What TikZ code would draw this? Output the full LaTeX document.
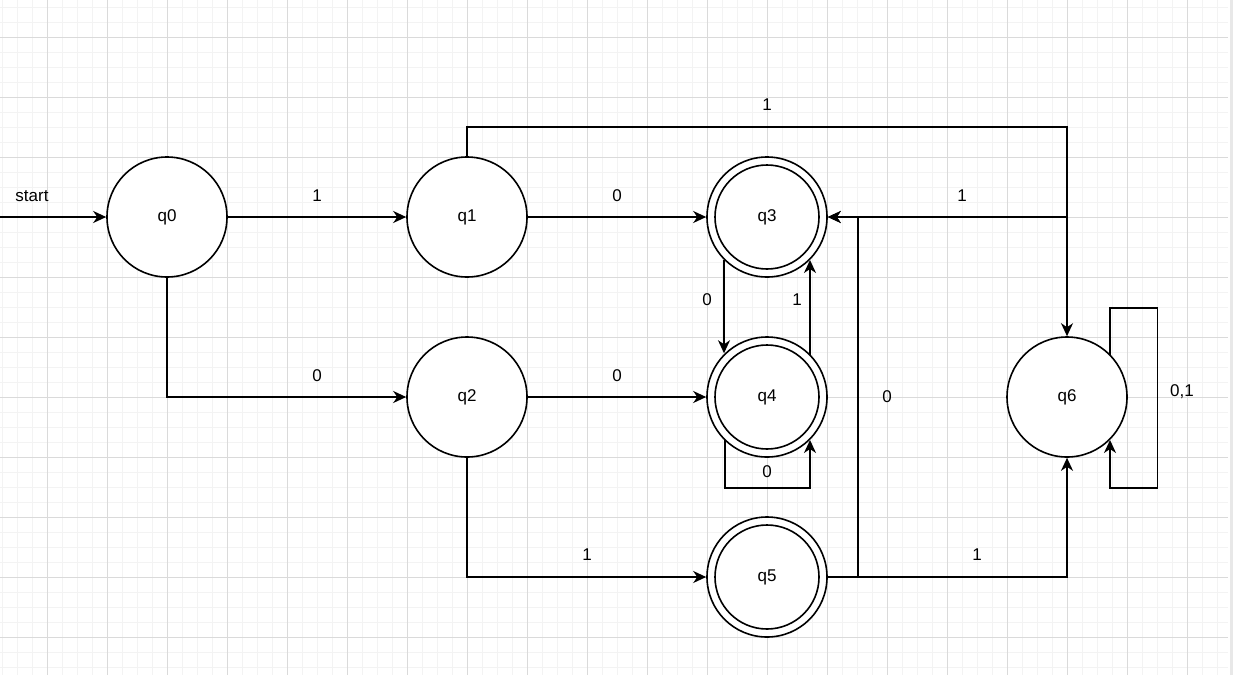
\documentclass[tikz,border=0pt]{standalone}
\usepackage{fontspec}
\setmainfont{Liberation Sans}
\usetikzlibrary{arrows.meta}
\definecolor{gminor}{HTML}{F3F3F3}
\definecolor{gmajor}{HTML}{DADADA}
\begin{document}
\begin{tikzpicture}[x=1pt,y=-1pt,
  state/.style={circle,draw,line width=1.6pt,fill=white,minimum size=120pt,inner sep=0pt,font=\fontsize{17}{20}\selectfont},
  edgeline/.style={line width=1.6pt,-{Stealth[length=13pt,width=12pt,inset=4pt]}},
  innerring/.style={line width=1.6pt},
  lbl/.style={font=\fontsize{17}{20}\selectfont,inner sep=0pt}]
\useasboundingbox (0,0) rectangle (1233,675);
\fill[white] (0,0) rectangle (1233,675);
% grid
\foreach \i in {0,...,81} \draw[gminor,line width=1.2pt] (2.3+15*\i,0) -- (2.3+15*\i,675);
\foreach \i in {0,...,44} \draw[gminor,line width=1.2pt] (0,7.3+15*\i) -- (1228,7.3+15*\i);
\foreach \i in {0,...,19} \draw[gmajor,line width=1pt] (47.3+60*\i,0) -- (47.3+60*\i,675);
\foreach \i in {0,...,10} \draw[gmajor,line width=1pt] (0,37.3+60*\i) -- (1228,37.3+60*\i);
\fill[white] (1228,0) rectangle (1233,675);
\fill[gray!18] (1230,0) rectangle (1233,675);
% states
\node[state] (q0) at (167,217) {q0};
\node[state] (q1) at (467,217) {q1};
\node[state] (q2) at (467,397) {q2};
\node[state] (q3) at (767,217) {q3};
\node[state] (q4) at (767,397) {q4};
\node[state] (q5) at (767,577) {q5};
\node[state] (q6) at (1067,397) {q6};
\draw[innerring] (q3.center) circle[radius=52pt];
\draw[innerring] (q4.center) circle[radius=52pt];
\draw[innerring] (q5.center) circle[radius=52pt];
% connectors
\coordinate (s0) at (0,217);
\draw[edgeline] (s0) -- (q0);
\draw[edgeline] (q0) -- (q1);
\draw[edgeline] (q1) -- (q3);
\draw[edgeline] (q0.south) |- (q2.west);
\draw[edgeline] (q2) -- (q4);
\draw[edgeline] (q2.south) |- (q5.west);
\coordinate (c1) at (467,127);
\draw[edgeline] (q1.north) -- (c1) -| (q6.north);
\draw[edgeline] (q3.225.6) -- (q3.225.6 |- q4.134.4);
\draw[edgeline] (q3.315.8 |- q4.44.2) -- (q3.315.8);
\coordinate (l4a) at (725,488);
\coordinate (l4b) at (810,488);
\draw[edgeline] (l4a |- q4.225.6) -- (l4a) -- (l4b) -- (l4b |- q4.315.8);
\coordinate (c5) at (858,577);
\coordinate (c3) at (858,217);
\draw[edgeline] (q5.east) -- (c5) -- (c3) -- (q3.east);
\draw[edgeline] (q5.east) -| (q6.south);
\coordinate (c6) at (1067,217);
\draw[edgeline] (c6) -- (q3.east);
\coordinate (r1) at (1110,308);
\coordinate (r2) at (1157.5,308);
\coordinate (r3) at (1157.5,488);
\coordinate (r4) at (1110,488);
\draw[edgeline] (r1 |- q6.44.2) -- (r1) -- (r2) -- (r3) -- (r4) -- (r4 |- q6.315.8);
% labels
\node[lbl] (tstart) at (32,196) {start};
\node[lbl] (t01) at (317,196) {1};
\node[lbl] (t13) at (617,196) {0};
\node[lbl] (t02) at (317,376) {0};
\node[lbl] (t24) at (617,376) {0};
\node[lbl] (t25) at (587,555) {1};
\node[lbl] (t16) at (767,105) {1};
\node[lbl] (t34) at (707,300) {0};
\node[lbl] (t43) at (797,300) {1};
\node[lbl] (t44) at (767,472) {0};
\node[lbl] (t53) at (887,397) {0};
\node[lbl] (t56) at (977,555) {1};
\node[lbl] (t63) at (962,196) {1};
\node[lbl] (t66) at (1182,392) {0,1};
\end{tikzpicture}
\end{document}
